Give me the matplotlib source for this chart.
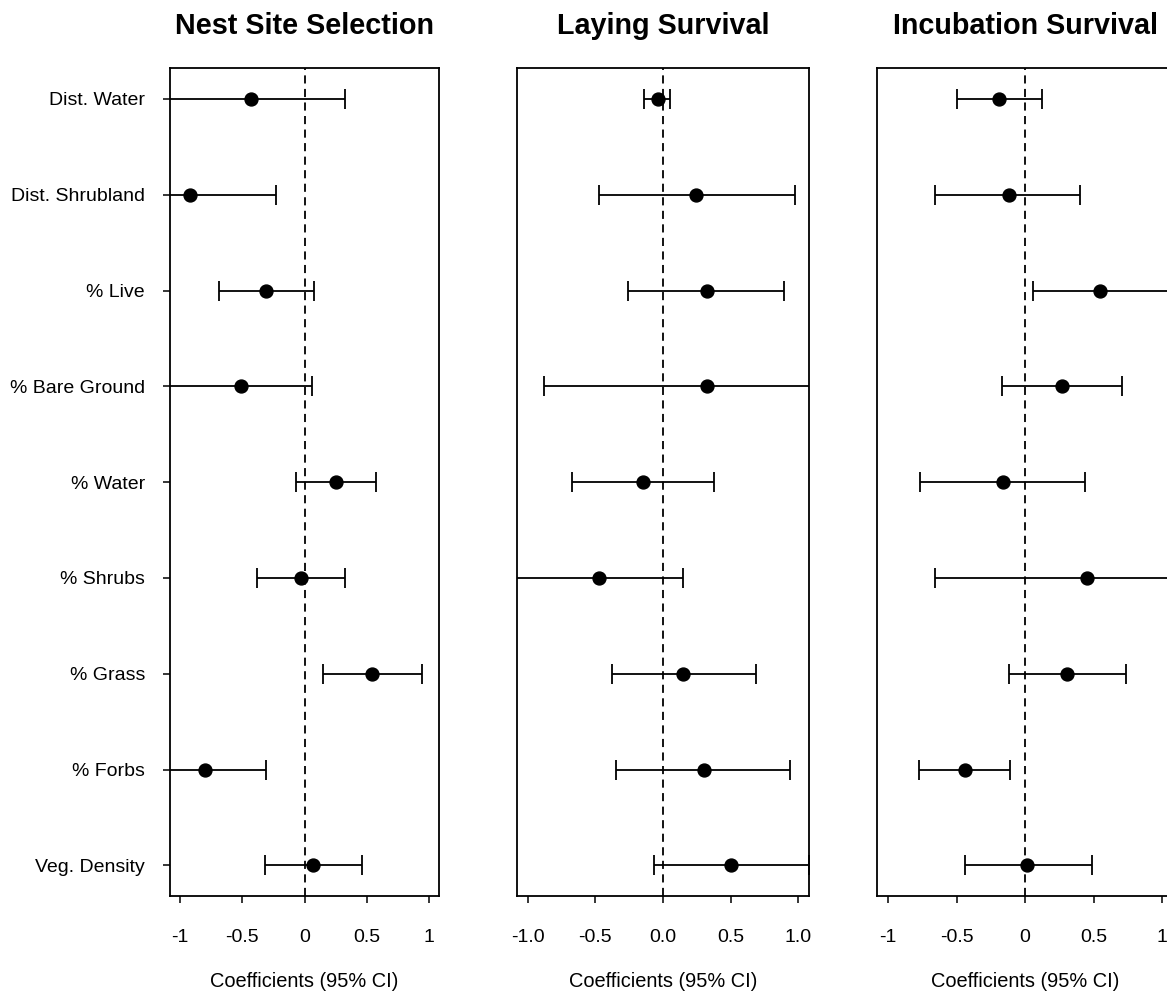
import matplotlib
matplotlib.use("Agg")
import matplotlib.pyplot as plt

plt.rcParams['font.family'] = ['Liberation Sans', 'DejaVu Sans']

categories = ["Dist. Water", "Dist. Shrubland", "% Live", "% Bare Ground",
              "% Water", "% Shrubs", "% Grass", "% Forbs", "Veg. Density"]

titles = ["Nest Site Selection", "Laying Survival", "Incubation Survival"]

nest_est = [-0.43, -0.92, -0.31, -0.51, 0.25, -0.03, 0.54, -0.80, 0.07]
nest_lo = [-1.18, -1.61, -0.69, -1.09, -0.07, -0.38, 0.15, -1.28, -0.32]
nest_hi = [0.32, -0.23, 0.075, 0.06, 0.57, 0.32, 0.945, -0.31, 0.46]

lay_est = [-0.04, 0.24, 0.325, 0.325, -0.15, -0.47, 0.15, 0.30, 0.50]
lay_lo = [-0.14, -0.47, -0.255, -0.88, -0.675, -1.10, -0.38, -0.35, -0.07]
lay_hi = [0.05, 0.975, 0.89, 1.53, 0.38, 0.15, 0.69, 0.935, 1.075]

inc_est = [-0.19, -0.12, 0.55, 0.27, -0.165, 0.455, 0.305, -0.44, 0.015]
inc_lo = [-0.495, -0.655, 0.055, -0.17, -0.765, -0.655, -0.115, -0.775, -0.44]
inc_hi = [0.12, 0.40, 1.05, 0.71, 0.435, 1.56, 0.74, -0.11, 0.485]

xticks = [-1, -0.5, 0, 0.5, 1]
xtick_labels = [["-1", "-0.5", "0", "0.5", "1"],
                ["-1.0", "-0.5", "0.0", "0.5", "1.0"],
                ["-1", "-0.5", "0", "0.5", "1"]]

W, H = 1167, 993
fig = plt.figure(figsize=(W / 100, H / 100), dpi=100)

panel_px = [(170, 439.3), (516.7, 809.3), (877.3, 1173)]
top_px, bot_px = 68.3, 896

series = [(nest_est, nest_lo, nest_hi), (lay_est, lay_lo, lay_hi), (inc_est, inc_lo, inc_hi)]
ypos = list(range(1, len(categories) + 1))

for i, ((l, r), (est, lo, hi)) in enumerate(zip(panel_px, series)):
    ax = fig.add_axes([l / W, 1 - bot_px / H, (r - l) / W, (bot_px - top_px) / H])
    xerr = [[e - a for e, a in zip(est, lo)], [b - e for e, b in zip(est, hi)]]
    ax.axvline(0, color='black', lw=1.3, ls=(0, (4.5, 3)), zorder=1)
    ax.errorbar(est, ypos, xerr=xerr, fmt='o', color='black', ms=9.3,
                elinewidth=1.3, capsize=7, capthick=1.3, zorder=3)
    ax.set_xlim(-1.08, 1.08)
    ax.set_ylim(len(categories) + 0.32, 1 - 0.32)
    ax.set_xticks(xticks)
    ax.set_xticklabels(xtick_labels[i], fontsize=14)
    ax.tick_params(axis='x', length=5, width=1.1, pad=18.5, direction='out')
    if i == 0:
        ax.set_yticks(ypos)
        ax.set_yticklabels(categories, fontsize=14)
        ax.tick_params(axis='y', length=5, width=1.1, pad=13, direction='out')
    else:
        ax.set_yticks([])
    for s in ax.spines.values():
        s.set_linewidth(1.3)
    ax.set_xlabel("Coefficients (95% CI)", fontsize=14.4, labelpad=19)
    ax.set_title(titles[i], fontsize=20.7, fontweight='bold', pad=24.5)

fig.savefig("out.png", dpi=100)
